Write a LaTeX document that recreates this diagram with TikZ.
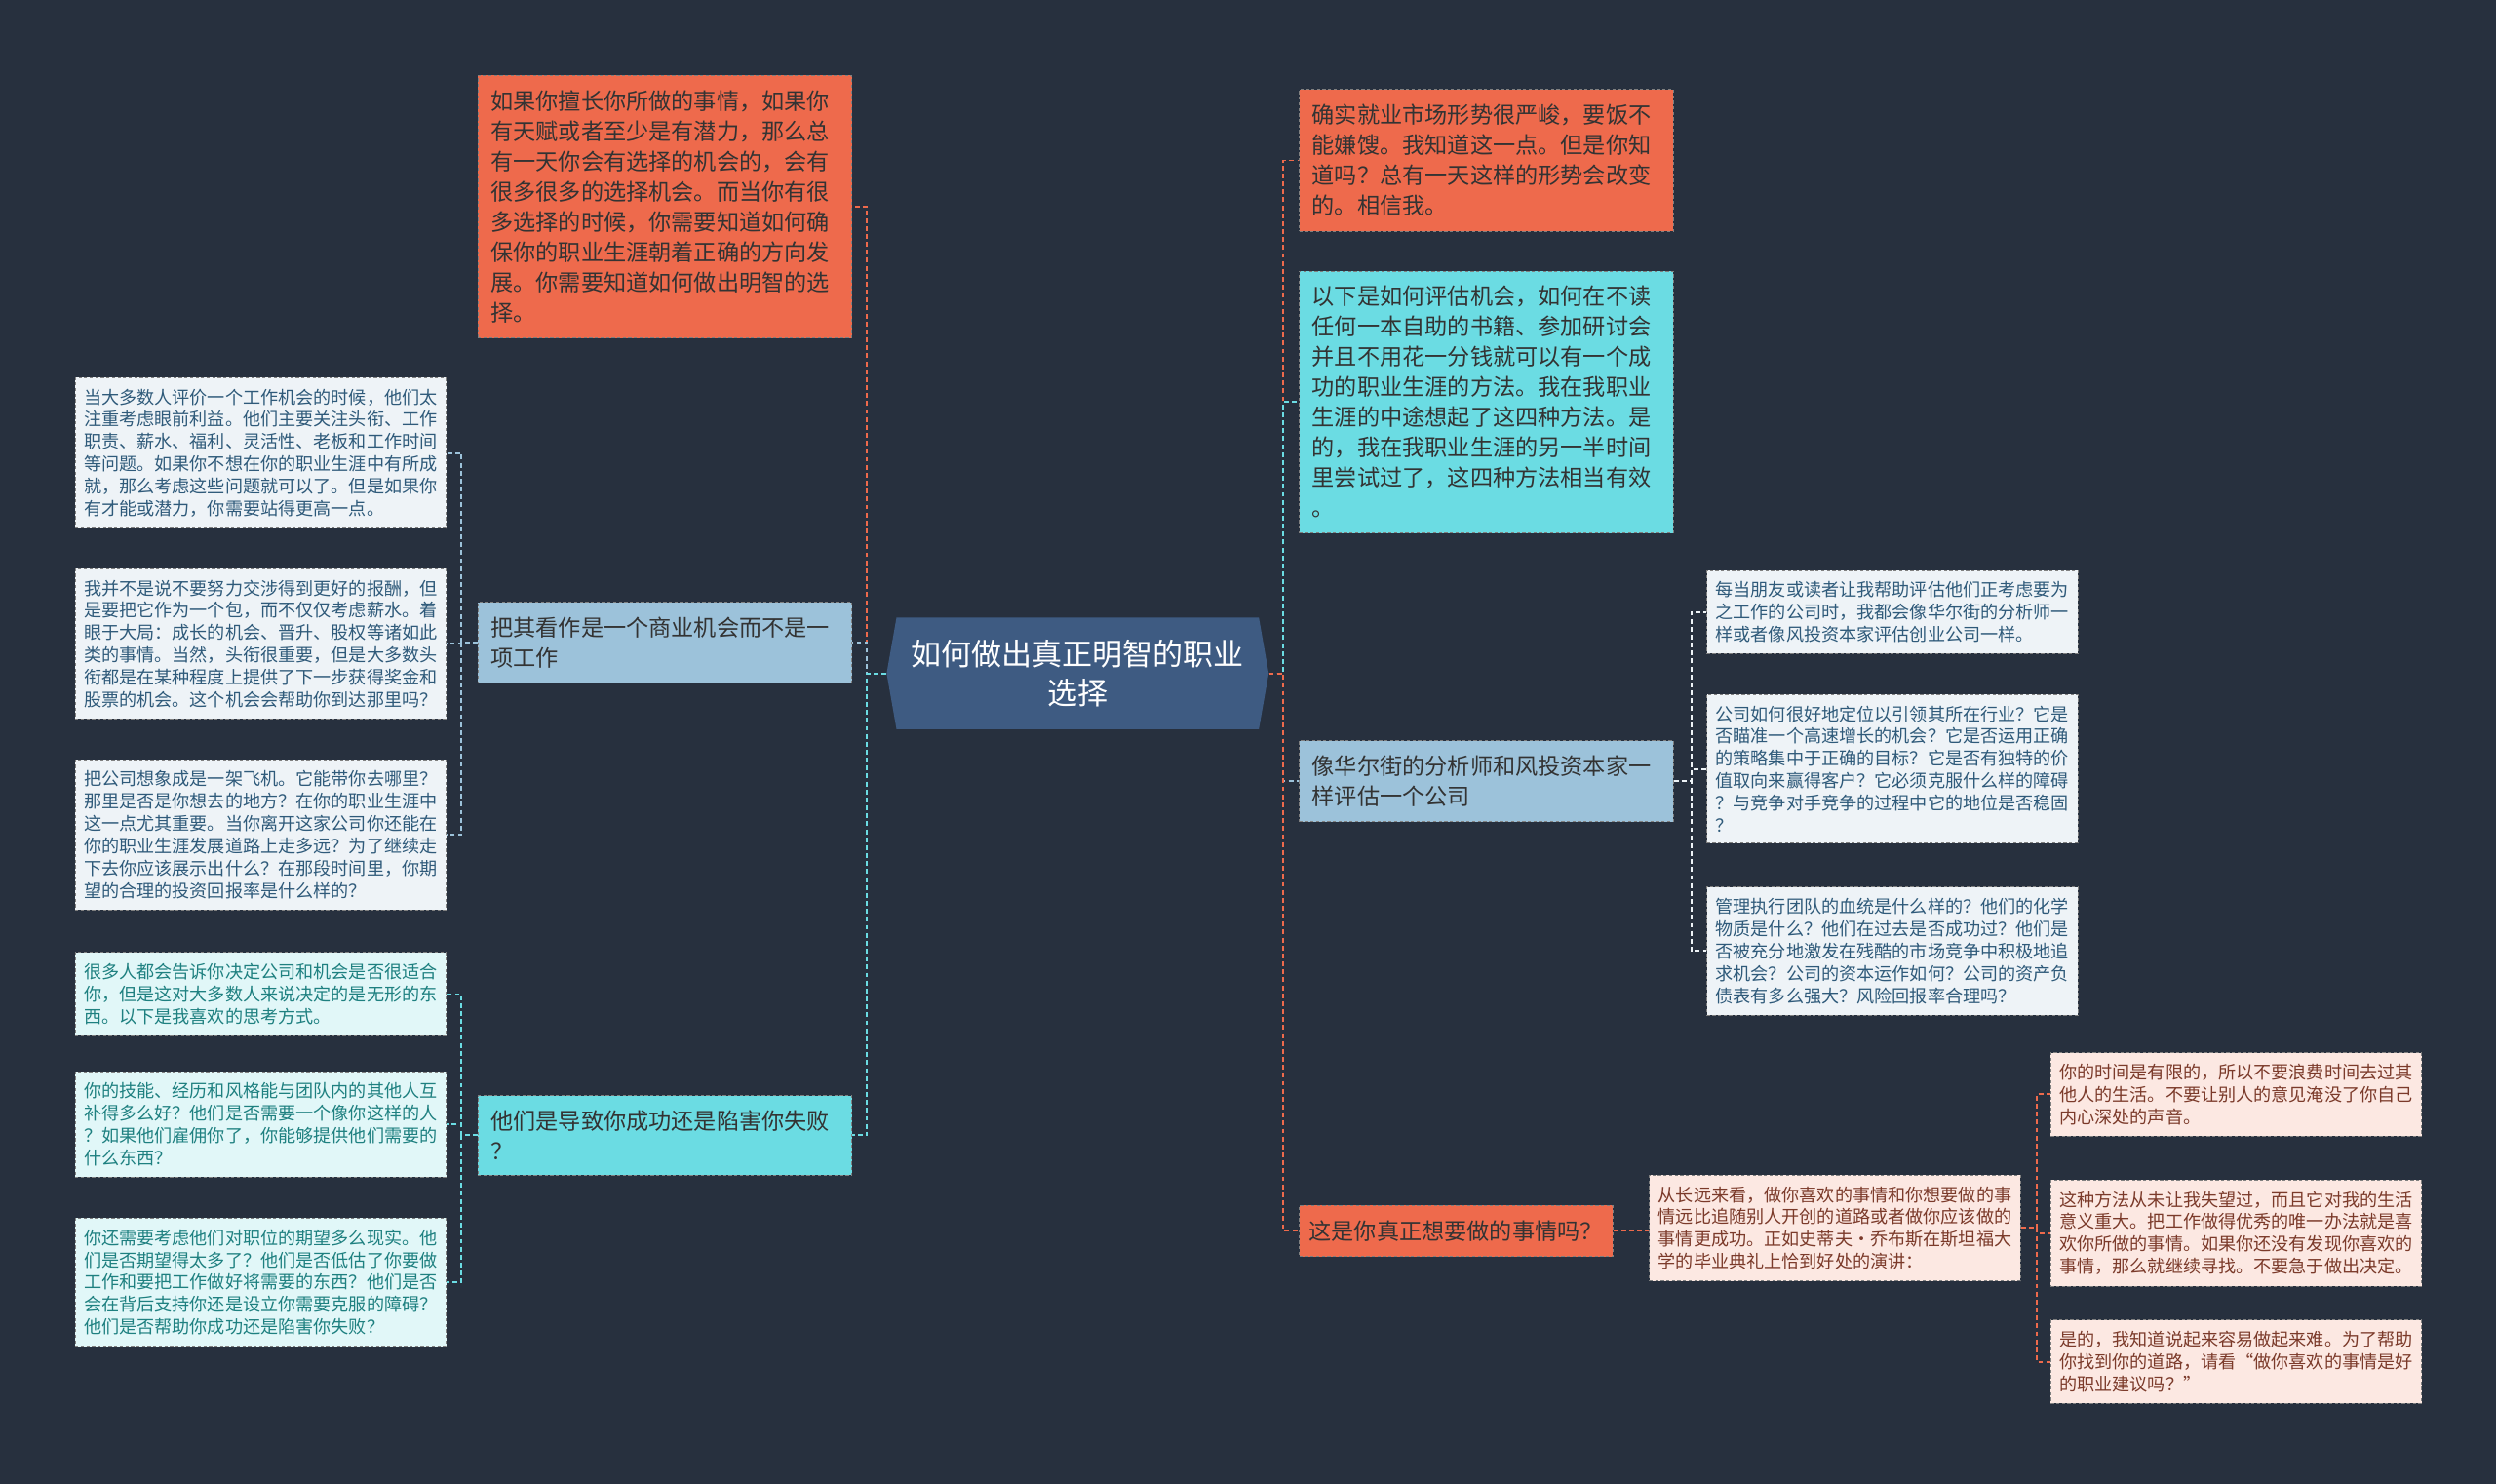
\documentclass[tikz,border=0pt]{standalone}
\usepackage{fontspec}
\setmainfont{Noto Sans CJK SC}
\usepackage{xcolor}
\usepackage{tikz}
\usetikzlibrary{shapes.symbols}

\definecolor{bgdark}{HTML}{27303E}
\definecolor{rootblue}{HTML}{3E5B82}
\definecolor{hotorange}{HTML}{EE6A4C}
\definecolor{aqua}{HTML}{6BDCE3}
\definecolor{steel}{HTML}{9CC2DA}
\definecolor{paleblue}{HTML}{EEF3F7}
\definecolor{paleaqua}{HTML}{E1F7F8}
\definecolor{palepeach}{HTML}{FCE8E2}
\definecolor{inkblue}{HTML}{2F5A7A}
\definecolor{inkteal}{HTML}{1E8080}
\definecolor{inkbrown}{HTML}{7B3A2A}

\begin{document}
\begin{tikzpicture}[
  x=1pt, y=-1pt,
  topic/.style={rectangle, draw=black!50, dash pattern=on 2pt off 1.5pt, line width=0.5pt,
                anchor=north west, align=left, text width=219pt, inner xsep=8pt, inner ysep=9.4pt,
                font=\fontsize{14.2}{19}\selectfont},
  leaf/.style={rectangle, draw=black!50, dash pattern=on 2pt off 1.5pt, line width=0.5pt,
               anchor=north west, align=left, text width=222pt, inner xsep=5.5pt, inner ysep=7pt,
               font=\fontsize{11.1}{14}\selectfont},
  link/.style={dash pattern=on 3pt off 2pt, line width=1.2pt}
]
\fill[bgdark] (0,0) rectangle (1568,932);
\useasboundingbox (0,0) rectangle (1568,932);

% centre
\node[signal, signal to=west and east, signal pointer angle=160, fill=rootblue, text=white,
      minimum width=240pt, minimum height=70pt, align=center,
      font=\fontsize{19}{25}\selectfont] (root) at (677,423) {如何做出真正明智的职业\\选择};

% left branches
\node[topic, fill=hotorange, text=black!80] (talent) at (300,47) {如果你擅长你所做的事情，如果你\\有天赋或者至少是有潜力，那么总\\有一天你会有选择的机会的，会有\\很多很多的选择机会。而当你有很\\多选择的时候，你需要知道如何确\\保你的职业生涯朝着正确的方向发\\展。你需要知道如何做出明智的选\\择。};
\node[topic, fill=steel, text=black!80] (business) at (300,378) {把其看作是一个商业机会而不是一\\项工作};
\node[topic, fill=aqua, text=black!80] (team) at (300,688) {他们是导致你成功还是陷害你失败\\？};

\node[leaf, fill=paleblue, text=inkblue] (shortterm) at (47,237) {当大多数人评价一个工作机会的时候，他们太\\注重考虑眼前利益。他们主要关注头衔、工作\\职责、薪水、福利、灵活性、老板和工作时间\\等问题。如果你不想在你的职业生涯中有所成\\就，那么考虑这些问题就可以了。但是如果你\\有才能或潜力，你需要站得更高一点。};
\node[leaf, fill=paleblue, text=inkblue] (package) at (47,357) {我并不是说不要努力交涉得到更好的报酬，但\\是要把它作为一个包，而不仅仅考虑薪水。着\\眼于大局：成长的机会、晋升、股权等诸如此\\类的事情。当然，头衔很重要，但是大多数头\\衔都是在某种程度上提供了下一步获得奖金和\\股票的机会。这个机会会帮助你到达那里吗？};
\node[leaf, fill=paleblue, text=inkblue] (plane) at (47,477) {把公司想象成是一架飞机。它能带你去哪里？\\那里是否是你想去的地方？在你的职业生涯中\\这一点尤其重要。当你离开这家公司你还能在\\你的职业生涯发展道路上走多远？为了继续走\\下去你应该展示出什么？在那段时间里，你期\\望的合理的投资回报率是什么样的？};
\node[leaf, fill=paleaqua, text=inkteal] (intangible) at (47,598) {很多人都会告诉你决定公司和机会是否很适合\\你，但是这对大多数人来说决定的是无形的东\\西。以下是我喜欢的思考方式。};
\node[leaf, fill=paleaqua, text=inkteal] (fit) at (47,673) {你的技能、经历和风格能与团队内的其他人互\\补得多么好？他们是否需要一个像你这样的人\\？如果他们雇佣你了，你能够提供他们需要的\\什么东西？};
\node[leaf, fill=paleaqua, text=inkteal] (expect) at (47,765) {你还需要考虑他们对职位的期望多么现实。他\\们是否期望得太多了？他们是否低估了你要做\\工作和要把工作做好将需要的东西？他们是否\\会在背后支持你还是设立你需要克服的障碍？\\他们是否帮助你成功还是陷害你失败？};

% right branches
\node[topic, fill=hotorange, text=black!80] (market) at (816,56) {确实就业市场形势很严峻，要饭不\\能嫌馊。我知道这一点。但是你知\\道吗？总有一天这样的形势会改变\\的。相信我。};
\node[topic, fill=aqua, text=black!80] (method) at (816,170) {以下是如何评估机会，如何在不读\\任何一本自助的书籍、参加研讨会\\并且不用花一分钱就可以有一个成\\功的职业生涯的方法。我在我职业\\生涯的中途想起了这四种方法。是\\的，我在我职业生涯的另一半时间\\里尝试过了，这四种方法相当有效\\。};
\node[topic, fill=steel, text=black!80] (analyst) at (816,465) {像华尔街的分析师和风投资本家一\\样评估一个公司};
\node[topic, fill=hotorange, text=black!80, text width=185pt, inner xsep=6pt] (passion) at (816,757) {这是你真正想要做的事情吗？};

\node[leaf, fill=paleblue, text=inkblue] (friends) at (1072,358) {每当朋友或读者让我帮助评估他们正考虑要为\\之工作的公司时，我都会像华尔街的分析师一\\样或者像风投资本家评估创业公司一样。};
\node[leaf, fill=paleblue, text=inkblue] (position) at (1072,436) {公司如何很好地定位以引领其所在行业？它是\\否瞄准一个高速增长的机会？它是否运用正确\\的策略集中于正确的目标？它是否有独特的价\\值取向来赢得客户？它必须克服什么样的障碍\\？与竞争对手竞争的过程中它的地位是否稳固\\？};
\node[leaf, fill=paleblue, text=inkblue] (leaders) at (1072,557) {管理执行团队的血统是什么样的？他们的化学\\物质是什么？他们在过去是否成功过？他们是\\否被充分地激发在残酷的市场竞争中积极地追\\求机会？公司的资本运作如何？公司的资产负\\债表有多么强大？风险回报率合理吗？};

\node[leaf, fill=palepeach, text=inkbrown] (longrun) at (1036,738) {从长远来看，做你喜欢的事情和你想要做的事\\情远比追随别人开创的道路或者做你应该做的\\事情更成功。正如史蒂夫•乔布斯在斯坦福大\\学的毕业典礼上恰到好处的演讲：};
\node[leaf, fill=palepeach, text=inkbrown] (time) at (1288,661) {你的时间是有限的，所以不要浪费时间去过其\\他人的生活。不要让别人的意见淹没了你自己\\内心深处的声音。};
\node[leaf, fill=palepeach, text=inkbrown] (neverfail) at (1288,741) {这种方法从未让我失望过，而且它对我的生活\\意义重大。把工作做得优秀的唯一办法就是喜\\欢你所做的事情。如果你还没有发现你喜欢的\\事情，那么就继续寻找。不要急于做出决定。};
\node[leaf, fill=palepeach, text=inkbrown] (hard) at (1288,829) {是的，我知道说起来容易做起来难。为了帮助\\你找到你的道路，请看“做你喜欢的事情是好\\的职业建议吗？”};

% connectors
\draw[link, hotorange] (root.west) -- ++(-12,0) |- (talent.east);
\draw[link, steel] (root.west) -- ++(-12,0) |- (business.east);
\draw[link, aqua] (root.west) -- ++(-12,0) |- (team.east);
\draw[link, hotorange] (root.east) -- ++(9,0) |- (market.west);
\draw[link, aqua] (root.east) -- ++(9,0) |- (method.west);
\draw[link, steel] (root.east) -- ++(9,0) |- (analyst.west);
\draw[link, hotorange] (root.east) -- ++(9,0) |- (passion.west);

\draw[link, steel] (business.west) -- ++(-10,0) |- (shortterm.east);
\draw[link, steel] (business.west) -- ++(-10,0) |- (package.east);
\draw[link, steel] (business.west) -- ++(-10,0) |- (plane.east);
\draw[link, aqua] (team.west) -- ++(-10,0) |- (intangible.east);
\draw[link, aqua] (team.west) -- ++(-10,0) |- (fit.east);
\draw[link, aqua] (team.west) -- ++(-10,0) |- (expect.east);

\draw[link, paleblue] (analyst.east) -- ++(11,0) |- (friends.west);
\draw[link, paleblue] (analyst.east) -- ++(11,0) |- (position.west);
\draw[link, paleblue] (analyst.east) -- ++(11,0) |- (leaders.west);

\draw[link, hotorange] (passion.east) -- (passion.east -| longrun.west);
\draw[link, hotorange] (longrun.east) -- ++(10,0) |- (time.west);
\draw[link, hotorange] (longrun.east) -- ++(10,0) |- (neverfail.west);
\draw[link, hotorange] (longrun.east) -- ++(10,0) |- (hard.west);
\end{tikzpicture}
\end{document}
